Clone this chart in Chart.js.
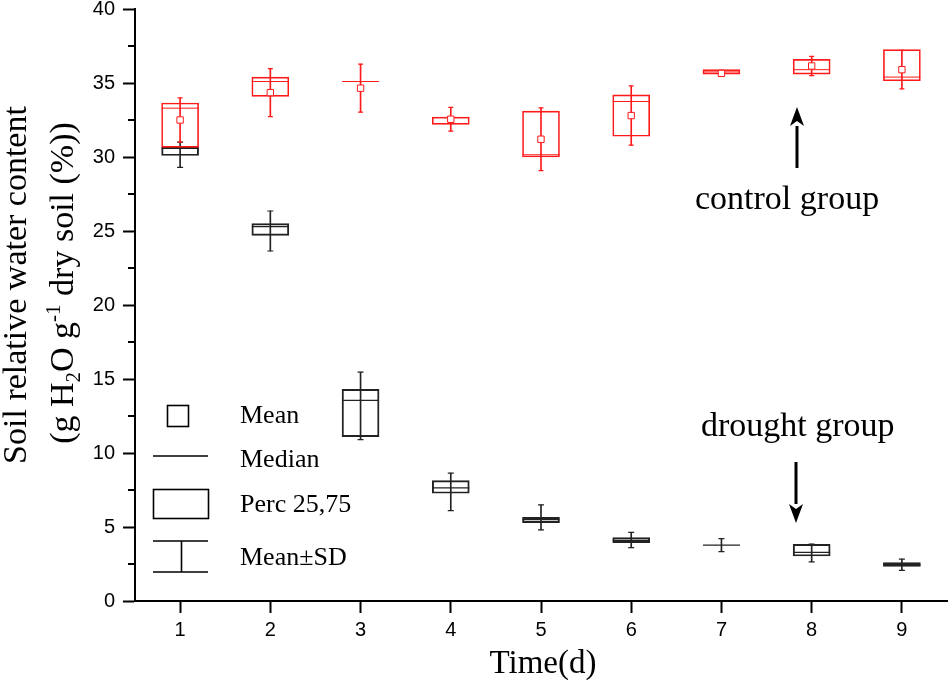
<!DOCTYPE html>
<html><head><meta charset="utf-8">
<script src="https://cdn.jsdelivr.net/npm/chart.js@4.4.1/dist/chart.umd.min.js"></script>
<style>html,body{margin:0;padding:0;background:#fff;overflow:hidden}canvas{display:block}</style>
</head><body>
<canvas id="c" width="950" height="683"></canvas>
<script>
// ---- data ----
const days = ['1','2','3','4','5','6','7','8','9'];

// control group
const ctrlQ1     = [30.65, 34.1, 35.1, 32.2, 30.0, 31.4, 35.6, 35.6, 35.15];
const ctrlQ3     = [33.65, 35.4, 35.1, 32.7, 33.1, 34.2, 35.9, 36.6, 37.25];
const ctrlMedian = [33.3, 35.1, 35.1, 32.65, 30.15, 33.75, 35.75, 35.9, 35.4];
const ctrlMean   = [32.5, 34.35, 34.65, 32.55, 31.2, 32.8, 35.65, 36.15, 35.9];
const ctrlSD     = [1.5, 1.62, 1.62, 0.8, 2.12, 2.0, 0.2, 0.65, 1.3];

// drought group
const drQ1     = [30.1, 24.7, 11.1, 7.28, 5.3, 3.94, 3.78, 3.04, 2.34];
const drQ3     = [30.65, 25.5, 14.3, 8.13, 5.65, 4.28, 3.78, 3.83, 2.59];
const drMedian = [30.6, 25.3, 13.55, 7.65, 5.5, 4.1, 3.78, 3.29, 2.45];
const drMean   = [30.15, 25.0, 13.18, 7.37, 5.65, 4.12, 3.77, 3.25, 2.45];
const drSD     = [0.85, 1.35, 2.28, 1.27, 0.85, 0.52, 0.44, 0.6, 0.38];

const minorYTicks = [2.5, 7.5, 12.5, 17.5, 22.5, 27.5, 32.5, 37.5];

// ---- styles ----
const SERIF = '"Liberation Serif", "Times New Roman", serif';
const SANS = '"Liberation Sans", Arial, sans-serif';
const RED = '#ff1a1a';
const BLK = '#222222';

// target plot area
const AREA = { left: 135, top: 9, right: 947, bottom: 601 };
const fitState = { yWidth: 135, xHeight: 82 };

const pairs = (a, b) => a.map((v, i) => [v, b[i]]);
const hiSD = (m, s) => m.map((v, i) => v + s[i]);
const loSD = (m, s) => m.map((v, i) => v - s[i]);

function zeroPadding(s) {
  s.paddingTop = 0; s.paddingBottom = 0; s.paddingLeft = 0; s.paddingRight = 0;
}

function groupDatasets(col, q1, q3, med, mean, sd, showMean, lw, capR) {
  const ds = [];
  if (showMean) {
    ds.push({ type: 'line', data: mean, showLine: false, pointStyle: 'rect',
      pointRadius: 4.5, pointBorderWidth: 1, pointBorderColor: col, pointBackgroundColor: '#fff' });
  }
  ds.push({ type: 'line', data: med, showLine: false, pointStyle: 'line',
    pointRadius: 18.5, pointBorderWidth: lw, pointBorderColor: col });
  ds.push({ type: 'line', data: hiSD(mean, sd), showLine: false, pointStyle: 'line',
    pointRadius: capR, pointBorderWidth: 1.2, pointBorderColor: col });
  ds.push({ type: 'line', data: loSD(mean, sd), showLine: false, pointStyle: 'line',
    pointRadius: capR, pointBorderWidth: 1.2, pointBorderColor: col });
  ds.push({ type: 'bar', data: pairs(q1, q3), grouped: false, barThickness: 37,
    borderSkipped: false, borderWidth: lw, borderColor: col, backgroundColor: 'rgba(255,255,255,0)' });
  ds.push({ type: 'bar', data: pairs(loSD(mean, sd), hiSD(mean, sd)), grouped: false, barThickness: 1,
    borderWidth: 0, backgroundColor: col });
  return ds;
}

const datasets = [
  ...groupDatasets(RED, ctrlQ1, ctrlQ3, ctrlMedian, ctrlMean, ctrlSD, true, 1, 2.5),
  ...groupDatasets(BLK, drQ1, drQ3, drMedian, drMean, drSD, false, 1.3, 3)
];

const annotations = {
  id: 'annotations',
  afterDraw(chart) {
    const ctx = chart.ctx;
    const y = chart.scales.y;
    const area = chart.chartArea;
    ctx.save();
    // minor y ticks
    ctx.strokeStyle = '#000'; ctx.lineWidth = 2;
    minorYTicks.forEach(v => {
      const py = Math.round(y.getPixelForValue(v));
      ctx.beginPath(); ctx.moveTo(area.left - 7, py); ctx.lineTo(area.left, py); ctx.stroke();
    });

    ctx.fillStyle = '#000';
    // x axis title
    ctx.font = '33px ' + SERIF;
    ctx.textAlign = 'center'; ctx.textBaseline = 'alphabetic';
    ctx.fillText('Time(d)', 543, 673);

    // y axis title, line 1
    ctx.save();
    ctx.translate(26, 285); ctx.rotate(-Math.PI / 2);
    ctx.font = '34px ' + SERIF;
    ctx.fillText('Soil relative water content', 0, 0);
    ctx.restore();

    // y axis title, line 2 with sub/superscript
    ctx.save();
    ctx.translate(73, 283); ctx.rotate(-Math.PI / 2);
    const segs = [
      { t: '(g H', f: '34px ', dy: 0 },
      { t: '2', f: '21px ', dy: 7 },
      { t: 'O g', f: '34px ', dy: 0 },
      { t: '-1', f: '21px ', dy: -13 },
      { t: ' dry soil (%))', f: '34px ', dy: 0 }
    ];
    let total = 0;
    segs.forEach(s => { ctx.font = s.f + SERIF; s.w = ctx.measureText(s.t).width; total += s.w; });
    ctx.textAlign = 'left';
    let cx = -total / 2;
    segs.forEach(s => { ctx.font = s.f + SERIF; ctx.fillText(s.t, cx, s.dy); cx += s.w; });
    ctx.restore();

    // group labels
    ctx.textAlign = 'left';
    ctx.font = '34px ' + SERIF;
    ctx.fillText('control group', 695, 209);
    ctx.fillText('drought group', 701, 436);

    // arrows
    function arrow(x, y0, y1) {
      const dir = y1 > y0 ? 1 : -1;
      const headLen = 19, half = 7;
      ctx.strokeStyle = '#000'; ctx.lineWidth = 3;
      ctx.beginPath(); ctx.moveTo(x, y0); ctx.lineTo(x, y1 - dir * headLen); ctx.stroke();
      ctx.beginPath();
      ctx.moveTo(x, y1);
      ctx.lineTo(x - half, y1 - dir * headLen);
      ctx.lineTo(x, y1 - dir * (headLen - 5));
      ctx.lineTo(x + half, y1 - dir * headLen);
      ctx.closePath(); ctx.fill();
    }
    arrow(797, 168, 107);
    arrow(796, 462, 523);

    // legend
    ctx.strokeStyle = '#000'; ctx.lineWidth = 1.6;
    ctx.strokeRect(167.5, 405.5, 21, 21);
    ctx.beginPath(); ctx.moveTo(153, 456); ctx.lineTo(208, 456); ctx.stroke();
    ctx.strokeRect(153.5, 489.5, 55, 29);
    ctx.beginPath();
    ctx.moveTo(153, 541); ctx.lineTo(208, 541);
    ctx.moveTo(153, 572); ctx.lineTo(208, 572);
    ctx.moveTo(181.5, 541); ctx.lineTo(181.5, 572);
    ctx.stroke();
    ctx.font = '26px ' + SERIF;
    ctx.fillText('Mean', 240, 423);
    ctx.fillText('Median', 240, 467);
    ctx.fillText('Perc 25,75', 240, 512);
    ctx.fillText('Mean\u00B1SD', 240, 565);
    ctx.restore();
  }
};

const chart = new Chart(document.getElementById('c'), {
  type: 'bar',
  data: { labels: days, datasets },
  options: {
    responsive: false,
    animation: false,
    devicePixelRatio: 1,
    layout: { autoPadding: false, padding: { top: AREA.top, right: 950 - AREA.right, left: 0, bottom: 0 } },
    plugins: { legend: { display: false }, tooltip: { enabled: false } },
    events: [],
    scales: {
      x: {
        type: 'category',
        offset: true,
        grid: { display: true, drawOnChartArea: false, offset: false, tickLength: 12, tickWidth: 2, tickColor: '#000' },
        border: { display: true, color: '#000', width: 2 },
        ticks: { color: '#000', font: { family: SANS, size: 20 }, padding: 5, maxRotation: 0 },
        afterFit(s) { s.height = fitState.xHeight; zeroPadding(s); }
      },
      y: {
        type: 'linear',
        min: 0, max: 40,
        grid: { display: true, drawOnChartArea: false, tickLength: 12, tickWidth: 2, tickColor: '#000' },
        border: { display: true, color: '#000', width: 2 },
        ticks: { stepSize: 5, color: '#000', font: { family: SANS, size: 20 }, padding: 8 },
        afterFit(s) { s.width = fitState.yWidth; zeroPadding(s); }
      }
    }
  },
  plugins: [annotations]
});

// nudge the layout so the plot area lands where the reference has it
for (let k = 0; k < 3; k++) {
  const a = chart.chartArea;
  const p = chart.config.options.layout.padding;
  p.top += AREA.top - a.top;
  p.right += a.right - AREA.right;
  fitState.yWidth += AREA.left - a.left;
  fitState.xHeight += a.bottom - AREA.bottom;
  chart.update();
}
</script>
</body></html>
